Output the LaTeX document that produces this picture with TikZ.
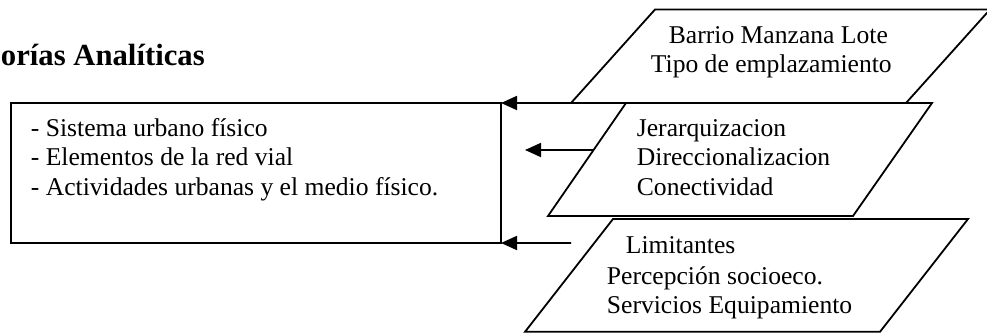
\documentclass[tikz,border=0pt]{standalone}
\usepackage{fontspec}
\setmainfont{Liberation Serif}
\usetikzlibrary{arrows.meta,calc}
\begin{document}
\begin{tikzpicture}[x=1bp,y=-1bp,
  line width=1.8bp,
  txt/.style={inner sep=0pt,anchor=base west,font=\fontsize{25.6bp}{29.5bp}\selectfont},
  ttl/.style={inner sep=0pt,anchor=base west,font=\fontsize{30.7bp}{35bp}\selectfont\bfseries},
  arr/.style={-{Triangle[length=16bp,width=14bp]}},
  para/.style={line join=miter}]
\useasboundingbox (0,0) rectangle (987,333);
% title
\node[ttl] (title) at (0,65) {orías Analíticas};
% main box
\node[draw,inner sep=0pt,outer sep=0pt,minimum width=490bp,minimum height=140bp,anchor=north west] (box) at (11,103) {};
\node[txt] (b1) at (30,136) {- Sistema urbano físico};
\node[txt] (b2) at (30,165.5) {- Elementos de la red vial};
\node[txt] (b3) at (30,195) {- Actividades urbanas y el medio físico.};
% parallelogram corners
\coordinate (p1tl) at (655,9.5);  \coordinate (p1tr) at (990,9.5);
\coordinate (p1br) at (906,103);  \coordinate (p1bl) at (571,103);
\coordinate (p2tl) at (626,103);  \coordinate (p2tr) at (932,103);
\coordinate (p2br) at (853,216);  \coordinate (p2bl) at (548,216);
\coordinate (p3tl) at (613,219);  \coordinate (p3tr) at (968,219);
\coordinate (p3br) at (880,331.8);\coordinate (p3bl) at (525,331.8);
\draw[para] (p1tl) -- (p1tr) -- (p1br) -- (p1bl) -- cycle;
\draw[para] (p2tl) -- (p2tr) -- (p2br) -- (p2bl) -- cycle;
\draw[para] (p3tl) -- (p3tr) -- (p3br) -- (p3bl) -- cycle;
% parallelogram texts
\node[txt] (t1a) at (668,43.3) {Barrio Manzana Lote};
\node[txt] (t1b) at (650,72.3) {Tipo de emplazamiento};
\node[txt] (t2a) at (636,136.7) {Jerarquizacion};
\node[txt] (t2b) at (636,165.7) {Direccionalizacion};
\node[txt] (t2c) at (636,195.7) {Conectividad};
\node[txt] (t3a) at (625,253.3) {Limitantes};
\node[txt] (t3b) at (606,284.3) {Percepción socioeco.};
\node[txt] (t3c) at (606,313.3) {Servicios Equipamiento};
% connectors
\coordinate (m1) at ($(p2tl)!0.416!(p2bl)$);
\coordinate (m2) at (525,150);
\coordinate (m3) at (571,243);
\draw[arr] (p1bl) -- (box.north east);
\draw[arr] (m1) -- (m2);
\draw[arr] (m3) -- (box.south east);
\end{tikzpicture}
\end{document}
